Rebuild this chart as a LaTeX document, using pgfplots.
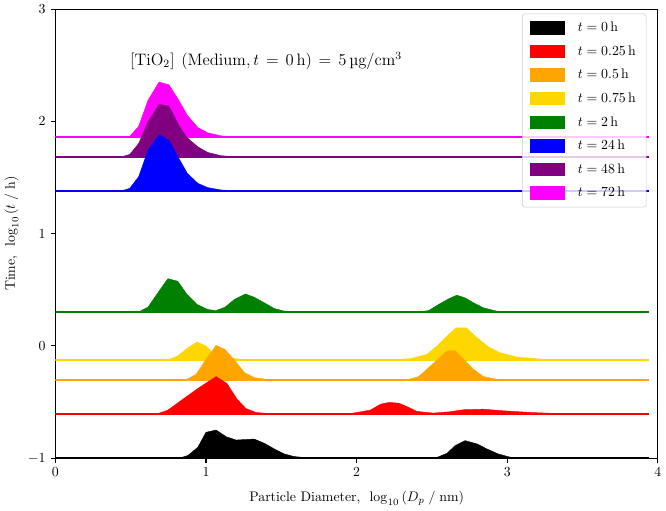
\documentclass[border=0pt]{standalone}
\usepackage{pgfplots}
\pgfplotsset{compat=1.18}

% series colours
\definecolor{cOrange}{RGB}{255,165,0}
\definecolor{cGold}{RGB}{255,215,0}
\definecolor{cGreen}{RGB}{0,128,0}
\definecolor{cPurple}{RGB}{128,0,128}
\definecolor{cMagenta}{RGB}{255,0,255}
\definecolor{cBlue}{RGB}{0,0,255}
\definecolor{cRed}{RGB}{255,0,0}

\pgfplotsset{
  ridge/.style={fill=#1, draw=#1, line width=0.3pt, forget plot},
  floorline/.style={color=#1, line width=1.5pt, forget plot},
  patch/.style={legend image code/.code={%
      \fill[##1, draw=none, fill opacity=1, sharp corners]
        (0pt,-4.8pt) rectangle (25.6pt,4.8pt);}},
}

\begin{document}
\begin{tikzpicture}
\begin{axis}[
  scale only axis,
  width=435.6pt, height=324.7pt,
  xmin=0, xmax=4, ymin=-1, ymax=3,
  xtick={0,1,2,3,4}, ytick={-1,0,1,2,3},
  xtick pos=bottom, ytick pos=left,
  tick align=outside,
  major tick length=3.5pt,
  axis line style={line width=0.8pt},
  every tick/.style={black, line width=0.8pt},
  xlabel={Particle Diameter, \ $\log_{10}\left(D_p\;/\;\mathrm{nm}\right)$},
  ylabel={Time, \ $\log_{10}\left(t\;/\;\mathrm{h}\right)$},
  xlabel style={yshift=-3.6pt},
  legend cell align=left,
  legend style={
    at={(0.981,0.99)}, anchor=north east,
    draw=black!20, rounded corners=2pt,
    fill=white, fill opacity=0.8, text opacity=1,
    inner xsep=5.5pt, inner ysep=4pt,
    row sep=4.6pt,
    /tikz/every odd column/.append style={column sep=7pt},
  },
]

% top rows first, so that the lower ridges sit in front
\addplot[ridge=cMagenta] coordinates {
 (0,1.857) (0.428,1.857) (0.494,1.867) (0.553,1.956) (0.615,2.187) (0.688,2.350)
 (0.754,2.326) (0.82,2.187) (0.876,2.054) (0.946,1.945) (1.012,1.898) (1.1,1.871)
 (1.21,1.859) (1.3,1.857) (3.94,1.857)};
\addplot[floorline=cMagenta] coordinates {(0,1.857) (3.94,1.857)};

\addplot[ridge=cPurple] coordinates {
 (0,1.681) (0.428,1.681) (0.494,1.705) (0.553,1.803) (0.615,1.995) (0.688,2.151)
 (0.754,2.137) (0.82,1.965) (0.876,1.853) (0.946,1.773) (1.012,1.723) (1.1,1.694)
 (1.21,1.683) (1.3,1.681) (3.94,1.681)};
\addplot[floorline=cPurple] coordinates {(0,1.681) (3.94,1.681)};

\addplot[ridge=cBlue] coordinates {
 (0,1.380) (0.438,1.380) (0.494,1.404) (0.553,1.507) (0.615,1.743) (0.688,1.882)
 (0.754,1.832) (0.82,1.670) (0.876,1.537) (0.946,1.448) (1.012,1.410) (1.1,1.389)
 (1.21,1.381) (1.3,1.380) (3.94,1.380)};
\addplot[floorline=cBlue] coordinates {(0,1.380) (3.94,1.380)};

\addplot[ridge=cGreen] coordinates {
 (0,0.301) (0.549,0.301) (0.615,0.345) (0.68,0.472) (0.747,0.599) (0.813,0.576)
 (0.875,0.457) (0.941,0.369) (1.012,0.324) (1.067,0.315) (1.126,0.345) (1.188,0.413)
 (1.261,0.463) (1.32,0.434) (1.387,0.384) (1.453,0.333) (1.52,0.310) (1.607,0.301)
 (2.40,0.301) (2.478,0.315) (2.544,0.369) (2.61,0.419) (2.665,0.452) (2.72,0.428)
 (2.776,0.384) (2.842,0.339) (2.93,0.310) (3.06,0.301) (3.94,0.301)};
\addplot[floorline=cGreen] coordinates {(0,0.301) (3.94,0.301)};

\addplot[ridge=cGold] coordinates {
 (0,-0.125) (0.747,-0.125) (0.813,-0.089) (0.88,-0.016) (0.941,0.035) (1.0,0.0)
 (1.045,-0.060) (1.1,-0.095) (1.2,-0.115) (1.3,-0.122) (1.4,-0.125) (2.224,-0.125)
 (2.357,-0.113) (2.467,-0.075) (2.533,0.0) (2.60,0.088) (2.66,0.162) (2.727,0.162)
 (2.80,0.073) (2.875,-0.009) (2.952,-0.060) (3.062,-0.098) (3.24,-0.119) (3.5,-0.125)
 (3.94,-0.125)};
\addplot[floorline=cGold] coordinates {(0,-0.125) (3.94,-0.125)};

\addplot[ridge=cOrange] coordinates {
 (0,-0.301) (0.868,-0.301) (0.935,-0.252) (1.0,-0.119) (1.067,0.005) (1.126,-0.031)
 (1.193,-0.133) (1.255,-0.237) (1.32,-0.282) (1.41,-0.299) (1.5,-0.301) (2.335,-0.301)
 (2.41,-0.275) (2.478,-0.193) (2.544,-0.113) (2.60,-0.045) (2.654,-0.042) (2.71,-0.119)
 (2.776,-0.208) (2.842,-0.273) (2.94,-0.299) (3.0,-0.301) (3.94,-0.301)};
\addplot[floorline=cOrange] coordinates {(0,-0.301) (3.94,-0.301)};

\addplot[ridge=cRed] coordinates {
 (0,-0.602) (0.68,-0.602) (0.747,-0.572) (0.847,-0.474) (0.946,-0.379) (1.067,-0.273)
 (1.14,-0.335) (1.206,-0.474) (1.265,-0.557) (1.331,-0.592) (1.41,-0.602) (1.96,-0.602)
 (2.09,-0.572) (2.16,-0.518) (2.214,-0.503) (2.28,-0.510) (2.335,-0.541) (2.40,-0.583)
 (2.51,-0.598) (2.62,-0.586) (2.71,-0.568) (2.84,-0.563) (2.97,-0.577) (3.15,-0.592)
 (3.33,-0.602) (3.94,-0.602)};
\addplot[floorline=cRed] coordinates {(0,-0.602) (3.94,-0.602)};

\addplot[ridge=black] coordinates {
 (0,-1) (0.82,-1) (0.88,-0.976) (0.946,-0.902) (1.0,-0.769) (1.067,-0.749)
 (1.133,-0.808) (1.2,-0.838) (1.32,-0.829) (1.387,-0.867) (1.453,-0.917) (1.52,-0.962)
 (1.585,-0.985) (1.67,-0.996) (1.75,-1) (2.52,-1) (2.60,-0.956) (2.654,-0.887)
 (2.72,-0.843) (2.80,-0.873) (2.864,-0.917) (2.94,-0.962) (3.02,-0.991) (3.08,-1)
 (3.94,-1)};
\addplot[floorline=black] coordinates {(0,-1) (3.94,-1)};

% legend, listed from the earliest time
\addlegendimage{patch, fill=black}
\addlegendentry{$t = 0\,\mathrm{h}$}
\addlegendimage{patch, fill=cRed}
\addlegendentry{$t = 0.25\,\mathrm{h}$}
\addlegendimage{patch, fill=cOrange}
\addlegendentry{$t = 0.5\,\mathrm{h}$}
\addlegendimage{patch, fill=cGold}
\addlegendentry{$t = 0.75\,\mathrm{h}$}
\addlegendimage{patch, fill=cGreen}
\addlegendentry{$t = 2\,\mathrm{h}$}
\addlegendimage{patch, fill=cBlue}
\addlegendentry{$t = 24\,\mathrm{h}$}
\addlegendimage{patch, fill=cPurple}
\addlegendentry{$t = 48\,\mathrm{h}$}
\addlegendimage{patch, fill=cMagenta}
\addlegendentry{$t = 72\,\mathrm{h}$}

\node[anchor=west, inner sep=0pt, font=\fontsize{12}{14}\selectfont]
  at (axis cs:0.494,2.541)
  {\thickmuskip=7.5mu
   $[\mathrm{TiO_2}]\;(\mathrm{Medium}, t = 0\,\mathrm{h}) = 5\,$µg/cm$^3$};
\end{axis}
\end{tikzpicture}
\end{document}
